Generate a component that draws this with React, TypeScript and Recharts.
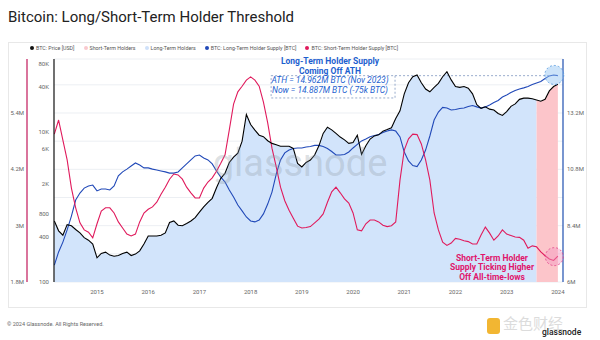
import React from "react";
import {
  ComposedChart,
  Area,
  Line,
  XAxis,
  YAxis,
  CartesianGrid,
  ReferenceArea,
  ReferenceLine,
  ReferenceDot,
} from "recharts";

// monthly points, first one is Mar 2014
const START_YEAR = 2014;
const START_MONTH = 3;

// BTC: Price [USD]
const btcPrice = [
  650, 480, 420, 580, 560, 500, 450, 390, 360, 320,
  210, 240, 250, 228, 220, 225, 240, 250, 225, 235, 260, 320,
  410, 410, 410, 420, 450, 620, 650, 570, 560, 600, 650, 720,
  850, 1000, 1150, 1300, 1800, 2400, 2800, 3900, 4600, 5200, 7500, 17000,
  12500, 10500, 9000, 8600, 7600, 7000, 6700, 6400, 6400, 6400, 6000, 3800,
  3400, 3900, 4200, 4900, 6500, 9500, 11500, 10600, 9500, 8500, 7800, 7000,
  7200, 9000, 5000, 6500, 8000, 8800, 9100, 10200, 10700, 11300, 15000, 19000,
  32000, 45000, 54000, 57000, 45000, 37000, 34000, 39000, 44000, 54000, 63000, 49000,
  40000, 39000, 40000, 38000, 32000, 23000, 20500, 21500, 20000, 19500, 17500, 16500,
  18500, 21800, 23500, 27000, 28000, 28000, 27500, 26500, 25500, 27000, 35000, 40000,
  43000,
];

// BTC: Long-Term Holder Supply [M BTC]
const lthSupply = [
  6.72, 7.28, 7.7, 8.22, 8.81, 9.49, 9.79, 10.0, 10.09, 10.13,
  9.88, 9.96, 9.96, 9.92, 10.09, 10.52, 10.69, 10.81, 10.94, 11.07, 10.98, 10.86,
  10.86, 10.81, 10.77, 10.73, 10.69, 10.64, 10.64, 10.69, 10.86, 11.03, 11.2, 11.37,
  11.41, 11.28, 11.2, 11.03, 10.73, 10.47, 10.26, 9.92, 9.62, 9.28, 9.03, 8.77,
  8.6, 8.56, 8.64, 8.9, 9.32, 9.83, 10.6, 11.2, 11.5, 11.62, 11.69, 11.71,
  11.71, 11.75, 11.77, 11.82, 11.82, 11.77, 11.69, 11.56, 11.41, 11.41, 11.43, 11.54,
  11.71, 11.86, 12.01, 12.09, 12.19, 12.24, 12.28, 12.37, 12.43, 12.48, 12.43, 12.18,
  11.54, 11.16, 10.96, 10.92, 11.2, 11.62, 12.22, 12.9, 13.24, 13.44, 13.41, 13.33,
  13.35, 13.39, 13.41, 13.48, 13.52, 13.46, 13.41, 13.46, 13.54, 13.65, 13.73, 13.88,
  13.97, 14.07, 14.16, 14.22, 14.27, 14.33, 14.41, 14.48, 14.54, 14.67, 14.78, 14.82,
  14.79,
];

// BTC: Short-Term Holder Supply [M BTC]
const sthSupply = [
  4.95, 5.25, 4.82, 4.4, 3.8, 3.38, 3.06, 2.91, 2.86, 2.74,
  3.04, 3.31, 3.38, 3.38, 3.27, 3.08, 2.95, 2.82, 2.78, 2.82, 3.08, 3.27,
  3.35, 3.4, 3.5, 3.67, 3.82, 3.99, 4.1, 4.08, 3.99, 3.82, 3.7, 3.59,
  3.59, 3.8, 3.93, 4.02, 4.16, 4.33, 4.51, 5.04, 5.59, 5.85, 5.97, 6.1,
  6.17, 6.1, 5.97, 5.63, 5.19, 4.65, 4.25, 3.82, 3.53, 3.33, 3.16, 2.99,
  2.95, 2.96, 2.98, 3.06, 3.14, 3.25, 3.5, 3.72, 3.82, 3.7, 3.57, 3.48,
  3.27, 2.91, 2.89, 3.04, 3.12, 3.12, 3.08, 3.01, 2.98, 3.0, 3.08, 3.97,
  4.61, 4.85, 4.95, 4.94, 4.74, 4.4, 3.97, 3.27, 2.91, 2.65, 2.58, 2.63,
  2.73, 2.71, 2.68, 2.66, 2.61, 2.61, 2.8, 2.97, 2.84, 2.69, 2.78, 2.91,
  2.82, 2.79, 2.76, 2.75, 2.69, 2.52, 2.57, 2.55, 2.44, 2.36, 2.29, 2.26,
  2.35,
];

// from this month on the price fill switches to the short-term holder colour
const STH_REGIME_FROM = "2023-08";

const yearTicks = [2015, 2016, 2017, 2018, 2019, 2020, 2021, 2022, 2023, 2024];
const priceTicks = [100, 400, 800, 2000, 6000, 10000, 40000, 80000];
const lthTicks = [6, 7.2, 8.4, 9.6, 10.8, 12, 13.2, 14.4];
const lthLabelled = [6, 8.4, 10.8, 13.2];
const sthTicks = [1.8, 3, 4.2, 5.4];

// annotation values
const LTH_ATH = 14.79;
const LTH_NOW = 14.82;
const STH_NOW = 2.34;

const legendItems = [
  { label: "BTC: Price [USD]", color: "#111111" },
  { label: "Short-Term Holders", color: "#f9c9ce" },
  { label: "Long-Term Holders", color: "#cfe1fa" },
  { label: "BTC: Long-Term Holder Supply [BTC]", color: "#2149b8" },
  { label: "BTC: Short-Term Holder Supply [BTC]", color: "#e01a5c" },
];

const rows = btcPrice.map((price, i) => {
  const m = START_MONTH - 1 + i;
  const year = START_YEAR + Math.floor(m / 12);
  const month = `${year}-${String((m % 12) + 1).padStart(2, "0")}`;
  return {
    month,
    t: START_YEAR + m / 12,
    price,
    lth: lthSupply[i],
    sth: sthSupply[i],
    lthFill: month <= STH_REGIME_FROM ? price : null,
    sthFill: month >= STH_REGIME_FROM ? price : null,
  };
});

const tickStyle = { fontSize: 6, fill: "#666", fontFamily: "Roboto, sans-serif" };
const fmtM = (v: number) => `${+v.toFixed(1)}M`;
const fmtPrice = (v: number) => (v >= 1000 ? `${v / 1000}K` : `${v}`);

export default function App() {
  return (
    <div
      style={{
        position: "absolute",
        left: 0,
        top: 0,
        width: 600,
        height: 340,
        background: "#fff",
        overflow: "hidden",
        fontFamily: "Roboto, 'Noto Sans', sans-serif",
      }}
    >
      <div style={{ position: "absolute", left: 8, top: 8, fontSize: 15, color: "#222", whiteSpace: "nowrap" }}>
        Bitcoin: Long/Short-Term Holder Threshold
      </div>
      {/* chart frame */}
      <div
        style={{
          position: "absolute",
          left: 8,
          top: 42,
          width: 579,
          height: 266,
          border: "1px solid #e8e8e8",
          boxSizing: "border-box",
        }}
      />
      {/* legend */}
      <div
        style={{
          position: "absolute",
          left: 30,
          top: 45,
          display: "flex",
          gap: 9,
          fontSize: 5.3,
          color: "#555",
          whiteSpace: "nowrap",
        }}
      >
        {legendItems.map((it) => (
          <div key={it.label} style={{ display: "flex", alignItems: "center", gap: 2 }}>
            <span style={{ width: 4, height: 4, borderRadius: 2, background: it.color, display: "inline-block" }} />
            <span>{it.label}</span>
          </div>
        ))}
      </div>

      <div style={{ position: "absolute", left: 0, top: 0 }}>
        <ComposedChart
          width={600}
          height={340}
          data={rows}
          margin={{ top: 59, right: 10, bottom: 38, left: 8 }}
        >
          <CartesianGrid yAxisId="lth" vertical={false} stroke="#eceff3" />
          <XAxis
            dataKey="t"
            type="number"
            domain={[2014.16, 2024.1]}
            ticks={yearTicks}
            axisLine={false}
            tickLine={false}
            tick={tickStyle}
            height={20}
          />
          <YAxis
            yAxisId="price"
            orientation="left"
            scale="log"
            domain={[100, 93000]}
            allowDataOverflow
            ticks={priceTicks}
            tickFormatter={fmtPrice}
            width={27}
            tickSize={3}
            tickMargin={2}
            tickLine={false}
            axisLine={{ stroke: "#111", strokeWidth: 1.2 }}
            tick={tickStyle}
          />
          <YAxis
            yAxisId="sth"
            orientation="left"
            domain={[1.8, 6.55]}
            allowDataOverflow
            ticks={sthTicks}
            tickFormatter={fmtM}
            width={19}
            tickSize={0}
            tickMargin={3}
            tickLine={false}
            axisLine={{ stroke: "#c2185b", strokeWidth: 1.2 }}
            tick={tickStyle}
          />
          <YAxis
            yAxisId="lth"
            orientation="right"
            domain={[6, 15.5]}
            allowDataOverflow
            ticks={lthTicks}
            tickFormatter={(v: number) => (lthLabelled.includes(v) ? fmtM(v) : "")}
            width={27}
            tickSize={2}
            tickMargin={2}
            tickLine={false}
            axisLine={{ stroke: "#1f4fb0", strokeWidth: 1.2 }}
            tick={tickStyle}
          />

          <Area
            yAxisId="price"
            dataKey="lthFill"
            type="linear"
            stroke="none"
            fill="#d2e4fb"
            fillOpacity={1}
            baseValue={100}
            isAnimationActive={false}
          />
          <Area
            yAxisId="price"
            dataKey="sthFill"
            type="linear"
            stroke="none"
            fill="#fcc5ca"
            fillOpacity={1}
            baseValue={100}
            isAnimationActive={false}
          />

          <ReferenceArea
            yAxisId="lth"
            x1={2018.4}
            x2={2020.82}
            y1={13.84}
            y2={LTH_ATH}
            fill="#ffffff"
            fillOpacity={0}
            stroke="#7f97c0"
            strokeDasharray="2 2"
            strokeWidth={0.8}
          />
          <ReferenceLine
            yAxisId="lth"
            segment={[
              { x: 2020.82, y: LTH_ATH },
              { x: 2023.85, y: LTH_ATH },
            ]}
            stroke="#7f97c0"
            strokeDasharray="2 2"
            strokeWidth={0.8}
          />

          <Line
            yAxisId="lth"
            dataKey="lth"
            type="linear"
            stroke="#2149b8"
            strokeWidth={1.1}
            dot={false}
            isAnimationActive={false}
          />
          <Line
            yAxisId="sth"
            dataKey="sth"
            type="linear"
            stroke="#e01a5c"
            strokeWidth={1.1}
            dot={false}
            isAnimationActive={false}
          />
          <Line
            yAxisId="price"
            dataKey="price"
            type="linear"
            stroke="#000"
            strokeWidth={1.1}
            dot={false}
            isAnimationActive={false}
          />

          <ReferenceDot
            yAxisId="lth"
            x={2023.93}
            y={LTH_NOW}
            r={9.5}
            fill="#8fc0f2"
            fillOpacity={0.45}
            stroke="#4f95dd"
            strokeDasharray="2 2"
            strokeWidth={0.8}
          />
          <ReferenceDot
            yAxisId="sth"
            x={2023.93}
            y={STH_NOW}
            r={9}
            fill="#f59ac0"
            fillOpacity={0.45}
            stroke="#e0408a"
            strokeDasharray="2 2"
            strokeWidth={0.8}
          />
        </ComposedChart>
      </div>

      {/* watermark */}
      <div
        style={{
          position: "absolute",
          left: 200,
          top: 144,
          width: 200,
          textAlign: "center",
          fontSize: 38,
          lineHeight: "38px",
          color: "rgba(140,150,162,0.3)",
          pointerEvents: "none",
        }}
      >
        glassnode
      </div>

      {/* annotations */}
      <div
        style={{
          position: "absolute",
          left: 230,
          top: 57,
          width: 200,
          textAlign: "center",
          fontSize: 8.5,
          lineHeight: "9.6px",
          color: "#1d5fcf",
          whiteSpace: "nowrap",
        }}
      >
        <div style={{ fontWeight: 700 }}>Long-Term Holder Supply</div>
        <div style={{ fontWeight: 700 }}>Coming Off ATH</div>
        <div style={{ fontStyle: "italic" }}>ATH = 14.962M BTC (Nov 2023)</div>
        <div style={{ fontStyle: "italic" }}>Now = 14.887M BTC (-75k BTC)</div>
      </div>
      <div
        style={{
          position: "absolute",
          left: 442,
          top: 253.5,
          width: 100,
          textAlign: "center",
          fontSize: 8.5,
          lineHeight: "9.5px",
          fontWeight: 700,
          color: "#e0156b",
          whiteSpace: "nowrap",
        }}
      >
        <div>Short-Term Holder</div>
        <div>Supply Ticking Higher</div>
        <div>Off All-time-lows</div>
      </div>

      {/* footer */}
      <div style={{ position: "absolute", left: 7, top: 321, fontSize: 5.5, color: "#666", whiteSpace: "nowrap" }}>
        © 2024 Glassnode. All Rights Reserved.
      </div>
      <div
        style={{
          position: "absolute",
          left: 487,
          top: 318,
          width: 13,
          height: 16,
          borderRadius: 3,
          background: "#f2b632",
        }}
      />
      <div
        style={{
          position: "absolute",
          left: 503,
          top: 314,
          fontSize: 15,
          lineHeight: "18px",
          color: "#dcdcdc",
          fontFamily: "'Noto Sans CJK SC', sans-serif",
          whiteSpace: "nowrap",
        }}
      >
        金色财经
      </div>
      <div
        style={{
          position: "absolute",
          left: 542,
          top: 327,
          fontSize: 8.5,
          lineHeight: "10px",
          color: "#222",
          fontWeight: 500,
          whiteSpace: "nowrap",
        }}
      >
        glassnode
      </div>
    </div>
  );
}
